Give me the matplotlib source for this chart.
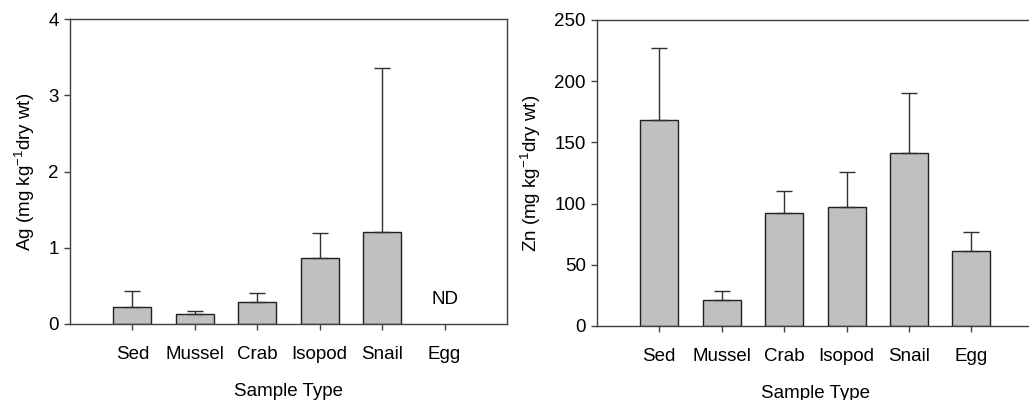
import numpy as np
import matplotlib
matplotlib.use("Agg")
import matplotlib.pyplot as plt

plt.rcParams['font.family'] = ['Liberation Sans', 'DejaVu Sans']
plt.rcParams['mathtext.fontset'] = 'custom'
plt.rcParams['mathtext.rm'] = 'Liberation Sans'
plt.rcParams['mathtext.it'] = 'Liberation Sans:italic'

samples = ['Sed', 'Mussel', 'Crab', 'Isopod', 'Snail', 'Egg']

# Ag (Egg not detected)
ag_mean = [0.22, 0.13, 0.29, 0.86, 1.21]
ag_err = [0.21, 0.035, 0.12, 0.33, 2.15]

# Zn
zn_mean = [168, 21.5, 92, 97.5, 141, 61.5]
zn_err = [59, 7.5, 18.5, 28.5, 49, 15]

x = np.arange(1, len(samples) + 1)
bar_w = 0.61
fs = 13.5
bar_kw = dict(color='#c0c0c0', edgecolor='#202020', linewidth=1.0, zorder=2)
err_kw = dict(fmt='none', ecolor='#303030', elinewidth=1.0, capsize=5.5, capthick=1.0, zorder=3)

fig = plt.figure(figsize=(10.29, 4.0), dpi=100)
ax1 = fig.add_axes([0.068, 0.19, 0.4247, 0.7625])
ax2 = fig.add_axes([0.580, 0.185, 0.4247, 0.765])

# left panel - Ag
n = len(ag_mean)
ax1.bar(x[:n], ag_mean, width=bar_w, **bar_kw)
ax1.errorbar(x[:n], ag_mean, yerr=[np.zeros(n), ag_err], **err_kw)
ax1.text(x[5], 0.32, 'ND', ha='center', va='center', fontsize=fs)
ax1.set_ylim(0, 4)
ax1.set_yticks([0, 1, 2, 3, 4])
ax1.set_ylabel('Ag (mg kg$^{-1}$dry wt)', fontsize=fs, labelpad=8)

# right panel - Zn
ax2.bar(x, zn_mean, width=bar_w, **bar_kw)
ax2.errorbar(x, zn_mean, yerr=[np.zeros(len(x)), zn_err], **err_kw)
ax2.set_ylim(0, 250)
ax2.set_yticks([0, 50, 100, 150, 200, 250])
ax2.set_ylabel('Zn (mg kg$^{-1}$dry wt)', fontsize=fs, labelpad=8)

for ax in (ax1, ax2):
    ax.set_xlim(0, 7)
    ax.set_xticks(x)
    ax.set_xticklabels(samples)
    ax.set_xlabel('Sample Type', fontsize=fs, labelpad=14)
    ax.tick_params(axis='both', direction='out', length=4, width=1, color='#404040',
                   labelsize=fs)
    ax.tick_params(axis='x', pad=12)
    ax.tick_params(axis='y', pad=4)
    for s in ax.spines.values():
        s.set_color('#404040')
        s.set_linewidth(1.0)

fig.savefig('out.png', dpi=100)
